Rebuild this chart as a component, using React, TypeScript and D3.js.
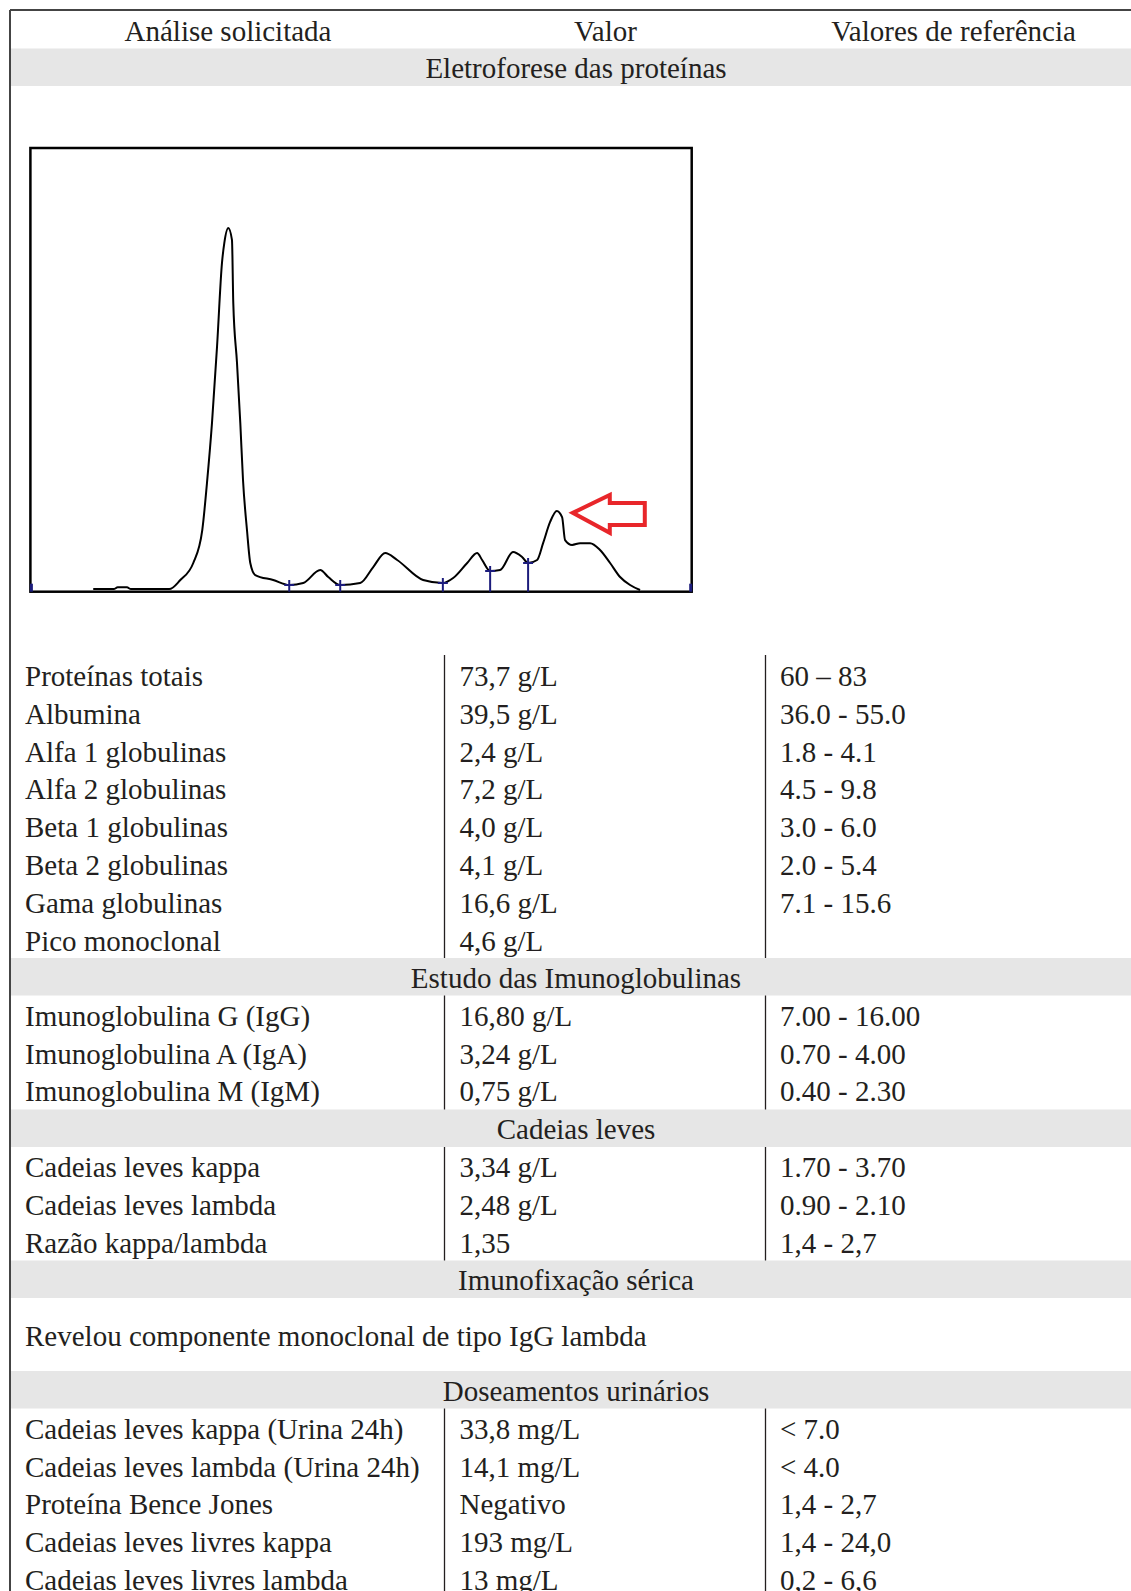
import React from "react";
import * as d3 from "d3";

// electrophoresis trace: mobility (0-100) vs relative density (0-100)
const traceX = [9.5, 12.6, 13.2, 14.6, 15.2, 21.0, 22.67, 24.63, 25.99, 26.7, 27.46, 28.22, 28.97, 29.32, 29.92, 30.48, 30.68, 31.24, 31.74, 32.15, 32.75, 33.25, 34.0, 36.72, 39.14, 41.26, 43.83, 45.04, 46.85, 49.87, 51.84, 53.65, 55.46, 59.39, 62.37, 63.93, 66.05, 67.55, 68.31, 69.52, 71.03, 72.99, 74.35, 75.26, 76.62, 77.53, 78.59, 79.6, 80.4, 80.85, 81.91, 83.12, 84.63, 86.14, 87.66, 89.17, 90.68, 92.19];
const traceY = [0.2, 0.2, 0.6, 0.6, 0.2, 0.2, 2.26, 6.11, 13.57, 24.2, 37.8, 55.0, 74.0, 78.5, 81.9, 79.2, 64.9, 51.4, 37.8, 24.9, 13.57, 6.11, 3.39, 2.26, 1.13, 1.58, 4.52, 2.94, 1.13, 1.58, 5.2, 8.37, 6.79, 2.26, 1.58, 2.71, 6.11, 8.37, 6.79, 4.3, 4.52, 8.6, 7.47, 6.11, 6.79, 10.6, 15.4, 17.9, 16.5, 11.3, 10.2, 10.6, 10.6, 9.05, 6.11, 2.94, 1.13, 0];
// fraction boundaries
const cuts = [39.14, 46.85, 62.37, 69.52, 75.26];
const monoPeak = { x: 79.6, y: 17.9 };

const headers = ["Análise solicitada", "Valor", "Valores de referência"];
const sectionTitles = ["Eletroforese das proteínas", "Estudo das Imunoglobulinas", "Cadeias leves", "Imunofixação sérica", "Doseamentos urinários"];

const proteinRows = [
  ["Proteínas totais", "73,7 g/L", "60 – 83"],
  ["Albumina", "39,5 g/L", "36.0 - 55.0"],
  ["Alfa 1 globulinas", "2,4 g/L", "1.8 - 4.1"],
  ["Alfa 2 globulinas", "7,2 g/L", "4.5 - 9.8"],
  ["Beta 1 globulinas", "4,0 g/L", "3.0 - 6.0"],
  ["Beta 2 globulinas", "4,1 g/L", "2.0 - 5.4"],
  ["Gama globulinas", "16,6 g/L", "7.1 - 15.6"],
  ["Pico monoclonal", "4,6 g/L", ""],
];
const igRows = [
  ["Imunoglobulina G (IgG)", "16,80 g/L", "7.00 - 16.00"],
  ["Imunoglobulina A (IgA)", "3,24 g/L", "0.70 - 4.00"],
  ["Imunoglobulina M (IgM)", "0,75 g/L", "0.40 - 2.30"],
];
const lightRows = [
  ["Cadeias leves kappa", "3,34 g/L", "1.70 - 3.70"],
  ["Cadeias leves lambda", "2,48 g/L", "0.90 - 2.10"],
  ["Razão kappa/lambda", "1,35", "1,4 - 2,7"],
];
const immunofixText = "Revelou componente monoclonal de tipo IgG lambda";
const urineRows = [
  ["Cadeias leves kappa (Urina 24h)", "33,8 mg/L", "< 7.0"],
  ["Cadeias leves lambda (Urina 24h)", "14,1 mg/L", "< 4.0"],
  ["Proteína Bence Jones", "Negativo", "1,4 - 2,7"],
  ["Cadeias leves livres kappa", "193 mg/L", "1,4 - 24,0"],
  ["Cadeias leves livres lambda", "13 mg/L", "0,2 - 6,6"],
];

const W = 1131;
const H = 1591;
const FONT = "'Liberation Serif', 'DejaVu Serif', serif";
const INK = "#231f20";
const BAND = "#e6e6e6";
const STEP = 37.8;
const BAND_H = 37.5;
const colX = [25, 459.5, 780];
const divX = [444.5, 765.5];

const App = () => {
  const box = { x0: 30.4, x1: 691.7, y0: 148, y1: 591.7 };
  const x = d3.scaleLinear().domain([0, 100]).range([box.x0, box.x1]);
  const y = d3.scaleLinear().domain([0, 100]).range([590, box.y0]);
  const pts = traceX.map((v, i) => [v, traceY[i]] as [number, number]);
  const line = d3
    .line<[number, number]>()
    .x((d) => x(d[0]))
    .y((d) => y(d[1]))
    .curve(d3.curveMonotoneX);
  const interp = (v: number) => {
    const i = d3.bisectLeft(traceX, v);
    if (i <= 0) return traceY[0];
    const t = (v - traceX[i - 1]) / (traceX[i] - traceX[i - 1]);
    return traceY[i - 1] + t * (traceY[i] - traceY[i - 1]);
  };

  const band = (top: number, label: string) => (
    <g key={label}>
      <rect x={11} y={top} width={W - 11} height={BAND_H} fill={BAND} />
      <text x={576} y={top + BAND_H / 2 + 11} textAnchor="middle" fill={INK}>
        {label}
      </text>
    </g>
  );
  const rows = (data: string[][], firstY: number) =>
    data.map((r, i) => (
      <g key={r[0] + i}>
        {r.map((c, j) => (
          <text key={j} x={colX[j]} y={firstY + i * STEP + 10.5} fill={INK}>
            {c}
          </text>
        ))}
      </g>
    ));
  const dividers = (top: number, bottom: number) =>
    divX.map((dx) => (
      <line key={dx + "-" + top} x1={dx} x2={dx} y1={top} y2={bottom} stroke={INK} strokeWidth={1.3} />
    ));

  const bands = [48.5, 958, 1109.5, 1260.5, 1371];

  // arrow anchored next to the monoclonal peak
  const ax = x(monoPeak.x) + 16;
  const ay = y(monoPeak.y) + 2;
  const arrow = `M${ax},${ay} L${ax + 37},${ay - 18} L${ax + 37},${ay - 10} L${ax + 72},${ay - 10} L${ax + 72},${ay + 12} L${ax + 37},${ay + 12} L${ax + 37},${ay + 20} Z`;

  return (
    <svg
      width={W}
      height={H}
      style={{ position: "absolute", left: 0, top: 0, background: "#fff" }}
      fontFamily={FONT}
      fontSize={29}
    >
      <rect x={0} y={0} width={W} height={H} fill="#fff" />
      {/* header */}
      <text x={228} y={40.5} textAnchor="middle" fill={INK}>{headers[0]}</text>
      <text x={605.5} y={40.5} textAnchor="middle" fill={INK}>{headers[1]}</text>
      <text x={953.5} y={40.5} textAnchor="middle" fill={INK}>{headers[2]}</text>

      {sectionTitles.map((t, i) => band(bands[i], t))}

      {/* electrophoresis chart */}
      <rect x={box.x0} y={box.y0} width={box.x1 - box.x0} height={box.y1 - box.y0} fill="none" stroke="#000" strokeWidth={2.5} />
      <path d={line(pts) || ""} fill="none" stroke="#000" strokeWidth={2} />
      {cuts.map((c) => {
        const cy = y(interp(c));
        return (
          <g key={c} stroke="#1c1c7c" strokeWidth={2}>
            <line x1={x(c)} x2={x(c)} y1={cy - 5} y2={box.y1} />
            <line x1={x(c) - 5} x2={x(c) + 5} y1={cy} y2={cy} />
          </g>
        );
      })}
      <line x1={x(0) + 1} x2={x(0) + 1} y1={box.y1 - 8} y2={box.y1} stroke="#1c1c7c" strokeWidth={3} />
      <line x1={x(100) - 1} x2={x(100) - 1} y1={box.y1 - 8} y2={box.y1} stroke="#1c1c7c" strokeWidth={3} />
      <path d={arrow} fill="none" stroke="#e8262a" strokeWidth={4} strokeLinejoin="miter" />

      {/* protein rows */}
      {dividers(655, bands[1])}
      {rows(proteinRows, 675.5)}

      {dividers(bands[1] + BAND_H, bands[2])}
      {rows(igRows, bands[1] + BAND_H + 19.8)}

      {dividers(bands[2] + BAND_H, bands[3])}
      {rows(lightRows, bands[2] + BAND_H + 19.8)}

      <text x={colX[0]} y={1335.5 + 10.5} fill={INK}>{immunofixText}</text>

      {dividers(bands[4] + BAND_H, H)}
      {rows(urineRows, bands[4] + BAND_H + 19.8)}

      {/* outer border */}
      <line x1={10} x2={W} y1={10} y2={10} stroke="#444" strokeWidth={2} />
      <line x1={10} x2={10} y1={10} y2={H} stroke="#444" strokeWidth={2} />
    </svg>
  );
};

export default App;
